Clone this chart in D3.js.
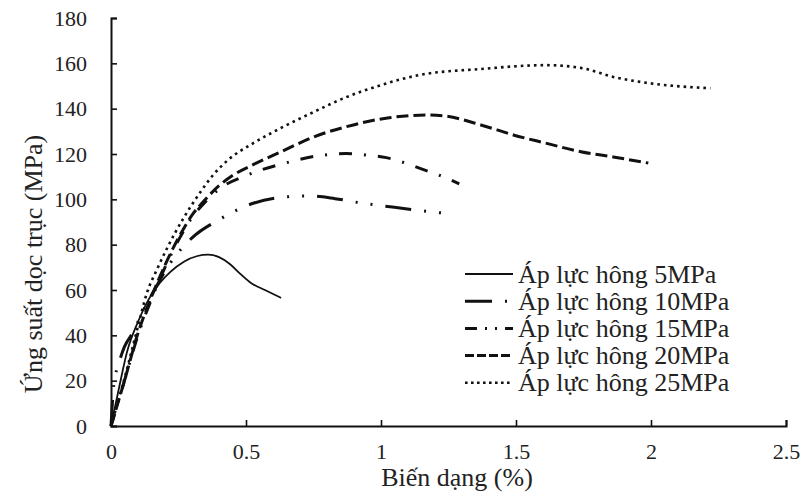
<!DOCTYPE html>
<html>
<head>
<meta charset="utf-8">
<script src="https://cdn.jsdelivr.net/npm/d3@7"></script>
<style>
  body { margin: 0; background: #fff; }
  svg { display: block; font-family: "Liberation Serif", "Times New Roman", serif; }
</style>
</head>
<body>
<svg id="chart" width="804" height="495"></svg>
<script>
// Strain (%) / axial stress (MPa) curves for each confining pressure
const seriesNames = ["Áp lực hông 5MPa", "Áp lực hông 10MPa", "Áp lực hông 15MPa", "Áp lực hông 20MPa", "Áp lực hông 25MPa"];

const strain5  = [0, 0.03, 0.06, 0.1, 0.14, 0.18, 0.22, 0.27, 0.32, 0.36, 0.4, 0.44, 0.48, 0.52, 0.57, 0.63];
const stress5  = [0, 17, 33, 46, 56, 63, 68, 72.5, 75, 75.6, 74.5, 71.5, 67, 63, 60, 56.5];

const strain10 = [0, 0.005, 0.01, 0.03, 0.05, 0.08, 0.12, 0.17, 0.22, 0.3, 0.4, 0.53, 0.64, 0.73, 0.83, 0.93, 1.05, 1.15, 1.24];
const stress10 = [0, 10, 18, 28, 35, 41, 51, 62, 72, 83, 91, 98.4, 101, 101.5, 100.3, 98.3, 96.5, 95, 93.8];

const strain15 = [0, 0.05, 0.1, 0.15, 0.2, 0.25, 0.3, 0.35, 0.4, 0.5, 0.63, 0.785, 0.87, 0.95, 1.02, 1.09, 1.16, 1.23, 1.29];
const stress15 = [0, 20, 40, 56, 70, 82, 92, 99, 104.5, 110.5, 115.5, 119.5, 120.2, 119.5, 118.4, 116, 113, 110, 106.8];

const strain20 = [0, 0.05, 0.1, 0.15, 0.2, 0.25, 0.3, 0.35, 0.4, 0.45, 0.53, 0.63, 0.75, 0.87, 1.03, 1.17, 1.24, 1.37, 1.49, 1.61, 1.74, 1.86, 1.99];
const stress20 = [0, 20, 41, 57, 71, 83, 93, 100, 106, 110.5, 115.5, 121, 127.5, 132, 136, 137.2, 136.7, 132.8, 128.4, 124.8, 121, 118.7, 116];

const strain25 = [0, 0.05, 0.1, 0.133, 0.17, 0.21, 0.27, 0.33, 0.38, 0.43, 0.53, 0.63, 0.75, 0.87, 1.0, 1.14, 1.37, 1.61, 1.74, 1.86, 1.99, 2.22];
const stress25 = [0, 21, 44, 58.7, 69, 79, 92, 103, 111, 117, 125, 131.5, 138.5, 145, 150.4, 154.8, 157.5, 159.2, 158, 154, 151.3, 149];

const xTicks = [0, 0.5, 1, 1.5, 2, 2.5];
const yTicks = [0, 20, 40, 60, 80, 100, 120, 140, 160, 180];

const strains  = [strain5, strain10, strain15, strain20, strain25];
const stresses = [stress5, stress10, stress15, stress20, stress25];

// Line styles per series (curve and legend sample)
const curveDash  = [null, "26,13,2,13,2,13", "13,12,2,12", "12,5", "2.6,4"];
const legendDash = [null, "27,13,2,100", "12,8,2,8,2,8,12", "9,3", "2.6,3.4"];
const widths = [1.8, 3, 3, 3, 2.6];

const svg = d3.select("#chart");
const plotLeft = 111, plotRight = 786, plotTop = 18, plotBottom = 426;

const x = d3.scaleLinear().domain([0, 2.5]).range([plotLeft, plotRight]);
const y = d3.scaleLinear().domain([0, 180]).range([plotBottom, plotTop]);

const ink = "#111";

// Axes (ticks point inward)
const xAxis = svg.append("g").attr("transform", `translate(0,${plotBottom})`)
  .call(d3.axisBottom(x).tickValues(xTicks).tickSize(-6).tickPadding(17)
    .tickFormat(d => String(d)));
const yAxis = svg.append("g").attr("transform", `translate(${plotLeft},0)`)
  .call(d3.axisLeft(y).tickValues(yTicks).tickSize(-6).tickPadding(24));

[xAxis, yAxis].forEach(g => {
  g.select(".domain").attr("stroke", ink).attr("stroke-width", 2);
  g.selectAll(".tick line").attr("stroke", ink).attr("stroke-width", 1.6);
  g.selectAll(".tick text").attr("fill", "#222").attr("font-size", 22)
    .attr("font-family", "Liberation Serif, serif");
});
yAxis.selectAll(".tick text").attr("dy", "0.33em");

// Axis titles
svg.append("text").attr("x", 457).attr("y", 486)
  .attr("text-anchor", "middle").attr("font-size", 26).attr("fill", "#222")
  .text("Biến dạng (%)");
svg.append("text").attr("transform", `translate(42,264) rotate(-90)`)
  .attr("text-anchor", "middle").attr("font-size", 26).attr("fill", "#222")
  .text("Ứng suất dọc trục (MPa)");

// Curves
const line = d3.line().x(d => x(d[0])).y(d => y(d[1])).curve(d3.curveMonotoneX);
strains.forEach((s, i) => {
  const pts = s.map((v, j) => [v, stresses[i][j]]);
  svg.append("path").datum(pts)
    .attr("d", line)
    .attr("fill", "none")
    .attr("stroke", ink)
    .attr("stroke-width", widths[i])
    .attr("stroke-dasharray", curveDash[i]);
});

// Legend
const legend = svg.append("g");
seriesNames.forEach((name, i) => {
  const ly = 274 + i * 27.2;
  legend.append("line").attr("x1", 465).attr("x2", 513).attr("y1", ly).attr("y2", ly)
    .attr("stroke", ink).attr("stroke-width", widths[i])
    .attr("stroke-dasharray", legendDash[i]);
  legend.append("text").attr("x", 518).attr("y", ly).attr("dy", "0.33em")
    .attr("font-size", 26).attr("fill", "#222").text(name);
});
</script>
</body>
</html>
